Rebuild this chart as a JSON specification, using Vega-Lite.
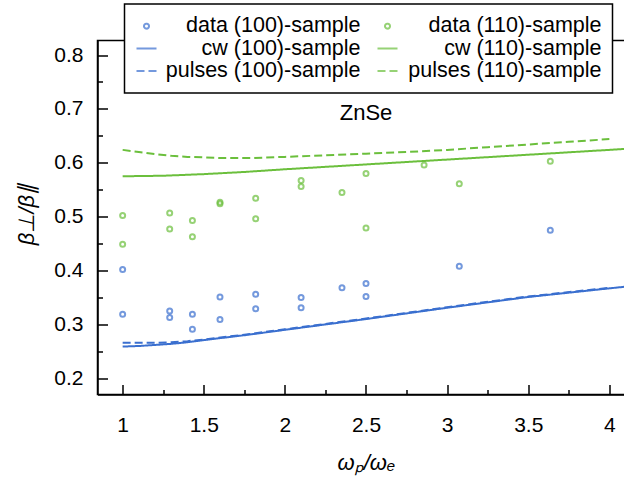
{
  "$schema": "https://vega.github.io/schema/vega-lite/v6.json",
  "width": 537,
  "height": 354,
  "autosize": {"type": "none"},
  "padding": {"left": 97.5, "top": 40.5, "right": 0, "bottom": 83.5},
  "background": "white",
  "config": {
    "font": "Liberation Sans",
    "view": {"stroke": "black", "strokeWidth": 1.5},
    "legend": {
      "orient": "none",
      "legendX": 27,
      "legendY": -36.5,
      "columns": 2,
      "direction": "horizontal",
      "labelFont": "Liberation Sans",
      "labelFontSize": 21.5,
      "labelColor": "black",
      "labelAlign": "right",
      "labelOffset": 203,
      "labelLimit": 400,
      "columnPadding": 13,
      "rowPadding": 0.5,
      "padding": 11,
      "strokeColor": "black",
      "strokeWidth": 1.5,
      "fillColor": "white",
      "symbolStrokeWidth": 2,
      "cornerRadius": 0
    }
  },
  "resolve": {"axis": {"x": "independent", "y": "independent"}},
  "datasets": {
    "points": [
      {"x": 1.0, "y": 0.402, "series": "data (100)-sample"},
      {"x": 1.0, "y": 0.319, "series": "data (100)-sample"},
      {"x": 1.29, "y": 0.325, "series": "data (100)-sample"},
      {"x": 1.29, "y": 0.313, "series": "data (100)-sample"},
      {"x": 1.43, "y": 0.319, "series": "data (100)-sample"},
      {"x": 1.43, "y": 0.291, "series": "data (100)-sample"},
      {"x": 1.6, "y": 0.351, "series": "data (100)-sample"},
      {"x": 1.6, "y": 0.309, "series": "data (100)-sample"},
      {"x": 1.82, "y": 0.356, "series": "data (100)-sample"},
      {"x": 1.82, "y": 0.329, "series": "data (100)-sample"},
      {"x": 2.1, "y": 0.35, "series": "data (100)-sample"},
      {"x": 2.1, "y": 0.331, "series": "data (100)-sample"},
      {"x": 2.352, "y": 0.368, "series": "data (100)-sample"},
      {"x": 2.5, "y": 0.376, "series": "data (100)-sample"},
      {"x": 2.5, "y": 0.352, "series": "data (100)-sample"},
      {"x": 3.075, "y": 0.408, "series": "data (100)-sample"},
      {"x": 3.636, "y": 0.475, "series": "data (100)-sample"},
      {"x": 1.0, "y": 0.502, "series": "data (110)-sample"},
      {"x": 1.0, "y": 0.449, "series": "data (110)-sample"},
      {"x": 1.29, "y": 0.507, "series": "data (110)-sample"},
      {"x": 1.29, "y": 0.477, "series": "data (110)-sample"},
      {"x": 1.43, "y": 0.493, "series": "data (110)-sample"},
      {"x": 1.43, "y": 0.463, "series": "data (110)-sample"},
      {"x": 1.6, "y": 0.527, "series": "data (110)-sample"},
      {"x": 1.6, "y": 0.524, "series": "data (110)-sample"},
      {"x": 1.82, "y": 0.534, "series": "data (110)-sample"},
      {"x": 1.82, "y": 0.496, "series": "data (110)-sample"},
      {"x": 2.1, "y": 0.567, "series": "data (110)-sample"},
      {"x": 2.1, "y": 0.556, "series": "data (110)-sample"},
      {"x": 2.352, "y": 0.545, "series": "data (110)-sample"},
      {"x": 2.5, "y": 0.58, "series": "data (110)-sample"},
      {"x": 2.5, "y": 0.479, "series": "data (110)-sample"},
      {"x": 2.858, "y": 0.596, "series": "data (110)-sample"},
      {"x": 3.075, "y": 0.561, "series": "data (110)-sample"},
      {"x": 3.636, "y": 0.603, "series": "data (110)-sample"}
    ],
    "lines": [
      {"x": 1.0, "y": 0.259, "series": "cw (100)-sample"},
      {"x": 1.1, "y": 0.26, "series": "cw (100)-sample"},
      {"x": 1.2, "y": 0.262, "series": "cw (100)-sample"},
      {"x": 1.3, "y": 0.264, "series": "cw (100)-sample"},
      {"x": 1.4, "y": 0.267, "series": "cw (100)-sample"},
      {"x": 1.5, "y": 0.271, "series": "cw (100)-sample"},
      {"x": 1.75, "y": 0.28, "series": "cw (100)-sample"},
      {"x": 2.0, "y": 0.29, "series": "cw (100)-sample"},
      {"x": 2.5, "y": 0.31, "series": "cw (100)-sample"},
      {"x": 3.0, "y": 0.331, "series": "cw (100)-sample"},
      {"x": 3.5, "y": 0.351, "series": "cw (100)-sample"},
      {"x": 4.0, "y": 0.367, "series": "cw (100)-sample"},
      {"x": 4.16, "y": 0.372, "series": "cw (100)-sample"},
      {"x": 1.0, "y": 0.575, "series": "cw (110)-sample"},
      {"x": 1.25, "y": 0.576, "series": "cw (110)-sample"},
      {"x": 1.5, "y": 0.579, "series": "cw (110)-sample"},
      {"x": 1.75, "y": 0.583, "series": "cw (110)-sample"},
      {"x": 2.0, "y": 0.588, "series": "cw (110)-sample"},
      {"x": 2.5, "y": 0.597, "series": "cw (110)-sample"},
      {"x": 3.0, "y": 0.606, "series": "cw (110)-sample"},
      {"x": 3.5, "y": 0.615, "series": "cw (110)-sample"},
      {"x": 4.0, "y": 0.624, "series": "cw (110)-sample"},
      {"x": 4.16, "y": 0.627, "series": "cw (110)-sample"},
      {"x": 1.0, "y": 0.266, "series": "pulses (100)-sample"},
      {"x": 1.1, "y": 0.266, "series": "pulses (100)-sample"},
      {"x": 1.2, "y": 0.266, "series": "pulses (100)-sample"},
      {"x": 1.3, "y": 0.267, "series": "pulses (100)-sample"},
      {"x": 1.4, "y": 0.269, "series": "pulses (100)-sample"},
      {"x": 1.5, "y": 0.272, "series": "pulses (100)-sample"},
      {"x": 1.75, "y": 0.281, "series": "pulses (100)-sample"},
      {"x": 2.0, "y": 0.291, "series": "pulses (100)-sample"},
      {"x": 2.5, "y": 0.311, "series": "pulses (100)-sample"},
      {"x": 3.0, "y": 0.332, "series": "pulses (100)-sample"},
      {"x": 3.5, "y": 0.352, "series": "pulses (100)-sample"},
      {"x": 4.0, "y": 0.368, "series": "pulses (100)-sample"},
      {"x": 1.0, "y": 0.624, "series": "pulses (110)-sample"},
      {"x": 1.1, "y": 0.62, "series": "pulses (110)-sample"},
      {"x": 1.2, "y": 0.616, "series": "pulses (110)-sample"},
      {"x": 1.3, "y": 0.613, "series": "pulses (110)-sample"},
      {"x": 1.4, "y": 0.611, "series": "pulses (110)-sample"},
      {"x": 1.6, "y": 0.609, "series": "pulses (110)-sample"},
      {"x": 1.8, "y": 0.609, "series": "pulses (110)-sample"},
      {"x": 2.0, "y": 0.611, "series": "pulses (110)-sample"},
      {"x": 2.25, "y": 0.614, "series": "pulses (110)-sample"},
      {"x": 2.5, "y": 0.617, "series": "pulses (110)-sample"},
      {"x": 2.75, "y": 0.62, "series": "pulses (110)-sample"},
      {"x": 3.0, "y": 0.624, "series": "pulses (110)-sample"},
      {"x": 3.25, "y": 0.629, "series": "pulses (110)-sample"},
      {"x": 3.5, "y": 0.634, "series": "pulses (110)-sample"},
      {"x": 3.75, "y": 0.639, "series": "pulses (110)-sample"},
      {"x": 4.0, "y": 0.644, "series": "pulses (110)-sample"}
    ],
    "labels": [
      {"x": 2.5, "y": 0.693, "label": "ZnSe"}
    ]
  },
  "layer": [
    {
      "data": {"name": "lines"},
      "mark": {"type": "line", "strokeWidth": 2, "clip": true},
      "encoding": {
        "x": {
          "field": "x", "type": "quantitative",
          "scale": {"domain": [0.845, 4.155], "nice": false, "zero": false},
          "axis": {
            "orient": "bottom",
            "title": "ωₚ/ωₑ",
            "titleFont": "Liberation Sans",
            "titleFontStyle": "italic",
            "titleFontWeight": "normal",
            "titleFontSize": 22,
            "titleColor": "black",
            "titleBaseline": "middle",
            "titleY": 67.5,
            "values": [1, 1.5, 2, 2.5, 3, 3.5, 4],
            "format": "~g",
            "labelFontSize": 21,
            "labelColor": "black",
            "labelPadding": 30,
            "labelFlush": false,
            "labelOverlap": false,
            "domainColor": "black",
            "domainWidth": 1.5,
            "tickColor": "black",
            "tickWidth": 1.5,
            "tickSize": -10,
            "grid": false
          }
        },
        "y": {
          "field": "y", "type": "quantitative",
          "scale": {"domain": [0.17, 0.827], "nice": false, "zero": false},
          "axis": {
            "orient": "left",
            "title": "β⊥/β∥",
            "titleFont": "Liberation Sans",
            "titleFontStyle": "italic",
            "titleFontWeight": "normal",
            "titleFontSize": 22,
            "titleColor": "black",
            "titleAngle": 270,
            "titleBaseline": "middle",
            "titleX": -71.5,
            "titleY": 173.5,
            "values": [0.2, 0.3, 0.4, 0.5, 0.6, 0.7, 0.8],
            "format": ".1f",
            "labelFontSize": 21,
            "labelColor": "black",
            "labelPadding": 24.5,
            "labelFlush": false,
            "labelOverlap": false,
            "domainColor": "black",
            "domainWidth": 1.5,
            "tickColor": "black",
            "tickWidth": 1.5,
            "tickSize": -10,
            "grid": false
          }
        },
        "color": {
          "field": "series", "type": "nominal",
          "scale": {
            "domain": ["data (100)-sample", "data (110)-sample", "cw (100)-sample", "cw (110)-sample", "pulses (100)-sample", "pulses (110)-sample"],
            "range": ["#3a6fcf", "#6bbf3c", "#3a6fcf", "#6bbf3c", "#3a6fcf", "#6bbf3c"]
          },
          "legend": {"title": null}
        },
        "strokeDash": {
          "field": "series", "type": "nominal",
          "scale": {
            "domain": ["data (100)-sample", "data (110)-sample", "cw (100)-sample", "cw (110)-sample", "pulses (100)-sample", "pulses (110)-sample"],
            "range": [[1, 0], [1, 0], [1, 0], [1, 0], [8, 4], [8, 4]]
          },
          "legend": {"title": null}
        }
      }
    },
    {
      "data": {"name": "points"},
      "mark": {"type": "point", "filled": false, "strokeWidth": 2},
      "encoding": {
        "x": {"field": "x", "type": "quantitative", "axis": null},
        "y": {"field": "y", "type": "quantitative", "axis": null},
        "color": {"field": "series", "type": "nominal", "legend": {"title": null}},
        "shape": {
          "field": "series", "type": "nominal",
          "scale": {
            "domain": ["data (100)-sample", "data (110)-sample", "cw (100)-sample", "cw (110)-sample", "pulses (100)-sample", "pulses (110)-sample"],
            "range": ["circle", "circle", "stroke", "stroke", "stroke", "stroke"]
          },
          "legend": {"title": null}
        },
        "size": {
          "field": "series", "type": "ordinal",
          "scale": {
            "type": "ordinal",
            "domain": ["data (100)-sample", "data (110)-sample", "cw (100)-sample", "cw (110)-sample", "pulses (100)-sample", "pulses (110)-sample"],
            "range": [25, 25, 400, 400, 400, 400]
          },
          "legend": {"title": null}
        }
      }
    },
    {
      "data": {"name": "labels"},
      "mark": {"type": "text", "fontSize": 22, "font": "Liberation Sans", "color": "black", "baseline": "middle", "align": "center"},
      "encoding": {
        "x": {
          "field": "x", "type": "quantitative",
          "axis": {
            "orient": "bottom",
            "title": null,
            "values": [1.25, 1.75, 2.25, 2.75, 3.25, 3.75],
            "labels": false,
            "domain": false,
            "tickColor": "black",
            "tickWidth": 1.5,
            "tickSize": -5,
            "grid": false
          }
        },
        "y": {
          "field": "y", "type": "quantitative",
          "axis": {
            "orient": "left",
            "title": null,
            "values": [0.25, 0.35, 0.45, 0.55, 0.65, 0.75],
            "labels": false,
            "domain": false,
            "tickColor": "black",
            "tickWidth": 1.5,
            "tickSize": -5,
            "grid": false
          }
        },
        "text": {"field": "label", "type": "nominal"}
      }
    }
  ]
}
